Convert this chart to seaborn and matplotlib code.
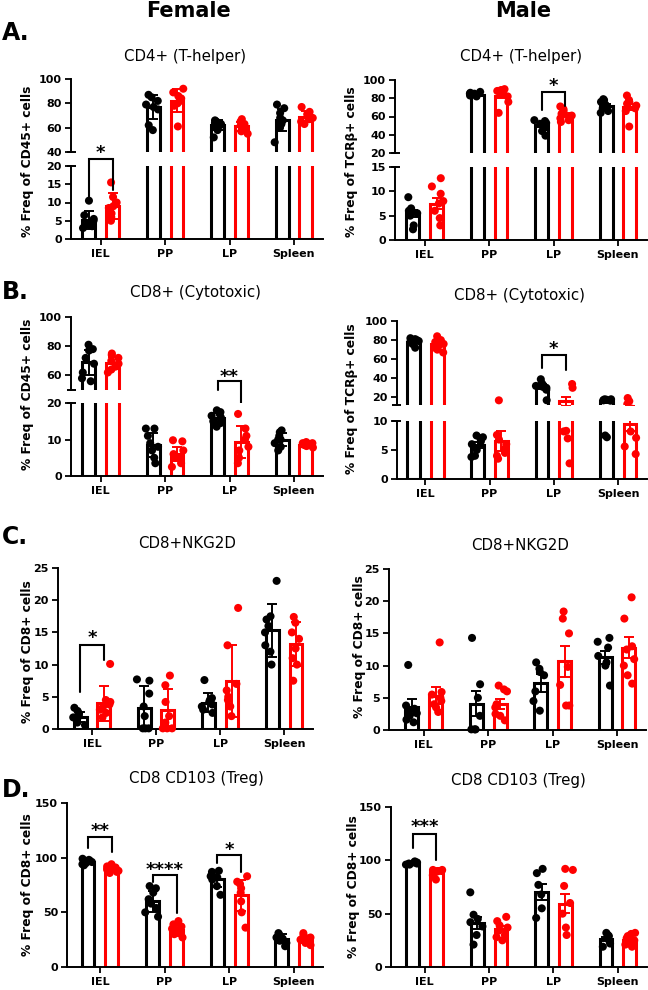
import numpy as np
import pandas as pd
import matplotlib
matplotlib.use("Agg")
import matplotlib.pyplot as plt
import seaborn as sns

sns.set_theme(style="ticks")
plt.rcParams["font.family"] = ["DejaVu Sans"]
plt.rcParams["font.weight"] = "bold"
for k in ["axes.edgecolor", "text.color", "xtick.color", "ytick.color", "axes.labelcolor"]:
    plt.rcParams[k] = "black"

np.random.seed(7)

# ---------------- data ----------------
tissues = ["IEL", "PP", "LP", "Spleen"]
groups = ["Group 1", "Group 2"]

# A. CD4+ (T-helper) - Female (mean +/- SD)
fa_mean_blk = [5.3, 77, 62, 66]
fa_mean_red = [9.0, 82, 61, 69]
fa_err_blk = [2.5, 10, 4, 9]
fa_err_red = [3.5, 9.5, 4, 4.5]
fa_pts_blk = [[10.5, 6.5, 5.5, 5, 4.5, 4, 3.5, 3], [87, 85, 82, 79, 77, 75, 62, 58],
              [66, 65, 64, 63, 62, 61, 58, 52], [79, 76, 72, 68, 66, 63, 60, 48]]
fa_pts_red = [[15.5, 11.5, 10, 9, 8.5, 7, 6, 5], [92, 89, 86, 84, 82, 80, 78, 61],
              [67, 65, 63, 62, 60, 58, 57, 55], [77, 73, 71, 70, 68, 67, 65, 63]]

# A. CD4+ (T-helper) - Male (mean +/- SEM)
ma_mean_blk = [5.5, 84, 51, 72]
ma_mean_red = [7.5, 83, 62, 70.5]
ma_err_blk = [0.7, 0.7, 2.2, 2]
ma_err_red = [1.1, 3, 2.3, 3.5]
ma_pts_blk = [[8.8, 6.5, 6, 5.8, 5.5, 5, 3, 2.2], [87, 86, 85, 85, 84, 84, 83, 82],
              [56, 55, 53, 52, 50, 48, 44, 39], [79, 78, 76, 73, 72, 69, 66, 64]]
ma_pts_red = [[12.7, 11, 9.5, 8, 7.5, 6, 4.5, 3], [90, 89, 88, 87, 85, 82, 76, 64],
              [71, 68, 66, 63, 61, 58, 56, 54], [83, 78, 76, 74, 72, 69, 66, 49]]

# B. CD8+ (Cytotoxic) - Female
fb_mean_blk = [69, 8.5, 16, 10]
fb_mean_red = [68.5, 6.0, 9.3, 8.6]
fb_err_blk = [8.5, 3.2, 1.3, 1.7]
fb_err_red = [4, 2, 4.3, 0.6]
fb_pts_blk = [[81, 78, 77, 72, 68, 62, 58, 56], [13, 13, 11, 9, 8, 7, 5, 3.5],
              [18, 17.5, 17, 16.5, 16, 15, 14.5, 13.5], [12.5, 12, 11, 10, 10, 9, 8, 7]]
fb_pts_red = [[75, 74, 72, 70, 68, 66, 64, 62], [9.8, 9.5, 7, 6, 5, 5, 3.5, 2.5],
              [17, 13, 11, 10, 8, 7, 5, 3.5], [9.3, 9, 9, 8.8, 8.6, 8.5, 8.2, 7.8]]

# B. CD8+ (Cytotoxic) - Male
mb_mean_blk = [78.5, 5.9, 31, 16]
mb_mean_red = [75.5, 6.5, 15.8, 9.4]
mb_err_blk = [1, 0.5, 2.5, 1.6]
mb_err_red = [2, 1.7, 5, 1.2]
mb_pts_blk = [[82, 81, 80, 79, 79, 78, 76, 72], [7.5, 7.2, 7, 6.5, 6, 5, 4, 3.8],
              [39, 35, 33, 32, 31, 30, 28, 17], [18, 18, 17.5, 17, 17, 16.5, 7.5, 7.2]]
mb_pts_red = [[84, 80, 78, 76, 74, 72, 70, 67], [16.9, 7.6, 6.8, 6, 5.2, 4.5, 4, 3.5],
              [34, 30, 8.3, 8.2, 7.0, 2.7], [19.3, 16, 13, 8.2, 7.1, 5.6, 4.3]]

# C. CD8+NKG2D - Female
fc_mean_blk = [1.9, 3.3, 4.1, 15.3]
fc_mean_red = [4.0, 3.0, 7.4, 13.2]
fc_err_blk = [0.8, 3.4, 1.5, 4.1]
fc_err_red = [2.7, 3.2, 5.6, 3.4]
fc_pts_blk = [[3.3, 2.8, 2.4, 2.0, 1.8, 1.5, 1.0, 0.6], [7.7, 7.5, 5.5, 3.5, 2.0, 0.1, 0.1, 0.1],
              [7.6, 4.8, 4.5, 4.2, 3.8, 3.5, 3.0, 2.5], [23, 17.5, 17, 16, 15, 13, 12, 10]]
fc_pts_red = [[10.1, 4.5, 4.2, 3.8, 3.5, 3.0, 2.5, 1.8], [8.3, 6.8, 4.2, 2.0, 1.0, 0.1, 0.1, 0.1],
              [18.8, 13.0, 7, 6, 5, 4.5, 3.5, 2], [17.4, 16.5, 15, 14, 12.5, 11, 10, 7.5]]

# C. CD8+NKG2D - Male
mc_mean_blk = [3.6, 4.1, 7.35, 11.3]
mc_mean_red = [5.3, 4.0, 10.7, 12.8]
mc_err_blk = [1.2, 2.0, 1.4, 1.0]
mc_err_red = [1.3, 0.8, 2.4, 1.6]
mc_pts_blk = [[10.1, 3.8, 3.3, 3, 2.6, 2.2, 1.6, 1.2], [14.3, 7.1, 5.0, 2.2, 0.1, 0.1, 0.1],
              [10.5, 9.5, 9.0, 8.5, 6.0, 4.5, 3.0], [14.3, 13.7, 12.8, 11.5, 10.5, 10.0, 6.9]]
mc_pts_red = [[13.6, 5.9, 5.5, 5.0, 4.5, 4.0, 3.5, 2.8], [6.9, 6.3, 6.0, 4.0, 3.5, 2.5, 2.2, 1.5],
              [18.4, 17.3, 15.0, 9.8, 7.0, 3.8, 3.8], [20.6, 17.3, 13.0, 12.5, 11.0, 10.0, 8.5, 7.2]]

# D. CD8 CD103 (Treg) - Female
fd_mean_blk = [96, 60, 80.5, 26]
fd_mean_red = [89.5, 34, 65.5, 25]
fd_err_blk = [2, 9.5, 7.5, 4]
fd_err_red = [2.5, 4, 14, 3.5]
fd_pts_blk = [[99, 98, 97, 97, 96, 95, 94, 93], [74, 72, 68, 62, 58, 54, 50, 46],
              [88, 87, 85, 83, 82, 80, 74, 66], [31, 30, 28, 27, 26, 24, 22, 19]]
fd_pts_red = [[94, 92, 91, 90, 89, 88, 87, 86], [42, 39, 37, 35, 33, 31, 30, 27],
              [83, 78, 76, 72, 68, 60, 50, 36], [31, 29, 27, 26, 25, 24, 22, 20]]

# D. CD8 CD103 (Treg) - Male
md_mean_blk = [97, 41, 70, 26]
md_mean_red = [89.5, 36, 59.5, 25]
md_err_blk = [0.5, 5.5, 7.5, 2]
md_err_red = [1, 2.5, 9, 1.8]
md_pts_blk = [[99, 98, 98, 97, 97, 96, 96], [70, 49, 45, 42, 38, 30, 21],
              [92, 88, 77, 68, 55, 46], [32, 30, 29, 27, 25, 22, 19]]
md_pts_red = [[91, 91, 90, 90, 90, 89, 86, 82], [47, 43, 39, 37, 34, 30, 28, 25],
              [92, 91, 76, 60, 50, 37, 30], [32, 31, 29, 27, 25, 23, 21, 19]]

# ---------------- drawing helpers ----------------
W, H = 648, 990
BLACK, RED = "#000000", "#ff0000"
fig = plt.figure(figsize=(W / 100, H / 100), dpi=100)


def box(l, t, r, b):
    return [l / W, 1 - b / H, (r - l) / W, (b - t) / H]


def draw(ax, mean_b, mean_r, err_b, err_r, pts_b, pts_r, clip=True):
    bars = pd.DataFrame({"tissue": tissues * 2,
                         "group": [groups[0]] * 4 + [groups[1]] * 4,
                         "value": list(mean_b) + list(mean_r)})
    sns.barplot(data=bars, x="tissue", y="value", hue="group", order=tissues,
                hue_order=groups, palette=[BLACK, RED], fill=False, width=0.74,
                gap=0.46, linewidth=2.2, errorbar=None, legend=False, ax=ax)
    rows = []
    for g, pts in zip(groups, (pts_b, pts_r)):
        for t, vals in zip(tissues, pts):
            for v in vals:
                rows.append((t, g, v))
    pdf = pd.DataFrame(rows, columns=["tissue", "group", "value"])
    sns.stripplot(data=pdf, x="tissue", y="value", hue="group", order=tissues,
                  hue_order=groups, palette=[BLACK, RED], dodge=True, jitter=0.2,
                  size=5.8, linewidth=0, legend=False, ax=ax, zorder=3, clip_on=clip)
    patches = sorted(ax.patches, key=lambda p: p.get_x())
    centers = [p.get_x() + p.get_width() / 2 for p in patches]
    xb, xr = centers[0::2], centers[1::2]
    ax.errorbar(xb, mean_b, yerr=err_b, fmt="none", ecolor=BLACK, elinewidth=1.4,
                capsize=3.6, capthick=1.4, zorder=4)
    ax.errorbar(xr, mean_r, yerr=err_r, fmt="none", ecolor=RED, elinewidth=1.4,
                capsize=3.6, capthick=1.4, zorder=4)
    ax.set_xlabel("")
    ax.set_ylabel("")
    sns.despine(ax=ax)
    return xb, xr


def style(ax, xl, ylim, yticks, show_x=True):
    ax.set_xlim(xl, 3.45)
    ax.set_ylim(*ylim)
    ax.set_yticks(yticks)
    ax.set_yticklabels([str(v) for v in yticks])
    ax.tick_params(axis="y", length=4.5, width=1.3, labelsize=8, pad=2)
    if show_x:
        ax.tick_params(axis="x", length=4, width=1.3, labelsize=8, pad=3)
    else:
        ax.tick_params(axis="x", bottom=False, labelbottom=False)
        ax.spines["bottom"].set_visible(False)
    for s in ax.spines.values():
        s.set_linewidth(1.4)
        s.set_color(BLACK)
    for lbl in ax.get_xticklabels() + ax.get_yticklabels():
        lbl.set_fontweight("bold")


def cap(ax, where):
    d = 4.5 / (ax.get_position().width * W)
    ax.plot([-d, d], [where, where], transform=ax.transAxes, color=BLACK, lw=1.4,
            clip_on=False, solid_capstyle="butt")


def bracket(ax, x0, x1, top, y0, y1, stars, star_y, fs=13):
    ax.plot([x0, x0, x1, x1], [y0, top, top, y1], color=BLACK, lw=1.5,
            clip_on=False, zorder=5, solid_joinstyle="miter")
    ax.annotate(stars, xy=((x0 + x1) / 2, star_y), xytext=(0, -0.55 * fs),
                textcoords="offset points", ha="center", va="baseline", fontsize=fs,
                fontweight="bold", annotation_clip=False)


def broken(box_up, box_lo, xl, ylim_up, yt_up, ylim_lo, yt_lo, data):
    au = fig.add_axes(box(*box_up))
    al = fig.add_axes(box(*box_lo))
    draw(au, *data)
    xb, xr = draw(al, *data)
    style(au, xl, ylim_up, yt_up, show_x=False)
    style(al, xl, ylim_lo, yt_lo)
    cap(au, 0)
    cap(al, 1)
    return au, al, xb, xr


# ---------------- Panel A ----------------
au, al, xb, xr = broken((71, 79, 323, 152), (71, 166, 323, 239), -0.46,
                        (40, 100), [40, 60, 80, 100], (0, 20), [0, 5, 10, 15, 20],
                        (fa_mean_blk, fa_mean_red, fa_err_blk, fa_err_red, fa_pts_blk, fa_pts_red))
bracket(al, xb[0], xr[0], 21.9, 11.5, 13.4, "*", 24.9)

au, al, xb, xr = broken((395, 80, 647, 153), (395, 167, 647, 240), -0.46,
                        (20, 100), [20, 40, 60, 80, 100], (0, 15), [0, 5, 10, 15],
                        (ma_mean_blk, ma_mean_red, ma_err_blk, ma_err_red, ma_pts_blk, ma_pts_red))
bracket(au, xb[2], xr[2], 86.8, 67, 71.5, "*", 99)

# ---------------- Panel B ----------------
au, al, xb, xr = broken((71, 317, 323, 390), (71, 403, 323, 476), -0.46,
                        (50, 100), [60, 80, 100], (0, 20), [0, 10, 20],
                        (fb_mean_blk, fb_mean_red, fb_err_blk, fb_err_red, fb_pts_blk, fb_pts_red))
bracket(au, xb[2], xr[2], 56.2, 50, 34.9, "**", 62.3)

au, al, xb, xr = broken((397, 321, 647, 405), (397, 421, 647, 479), -0.44,
                        (12, 100), [20, 40, 60, 80, 100], (0, 10), [0, 5, 10],
                        (mb_mean_blk, mb_mean_red, mb_err_blk, mb_err_red, mb_pts_blk, mb_pts_red))
bracket(au, xb[2], xr[2], 64.7, 51.2, 49.1, "*", 76)

# ---------------- Panel C ----------------
ax = fig.add_axes(box(58, 568, 313, 729))
xb, xr = draw(ax, fc_mean_blk, fc_mean_red, fc_err_blk, fc_err_red, fc_pts_blk, fc_pts_red, clip=False)
style(ax, -0.53, (0, 25), [0, 5, 10, 15, 20, 25])
bracket(ax, xb[0], xr[0], 13.0, 5.7, 10.7, "*", 14.9)

ax = fig.add_axes(box(389, 569, 646, 730))
draw(ax, mc_mean_blk, mc_mean_red, mc_err_blk, mc_err_red, mc_pts_blk, mc_pts_red, clip=False)
style(ax, -0.54, (0, 25), [0, 5, 10, 15, 20, 25])

# ---------------- Panel D ----------------
ax = fig.add_axes(box(67, 803, 323, 967))
xb, xr = draw(ax, fd_mean_blk, fd_mean_red, fd_err_blk, fd_err_red, fd_pts_blk, fd_pts_red, clip=False)
style(ax, -0.51, (0, 150), [0, 50, 100, 150])
bracket(ax, xb[0], xr[0], 119, 109, 105, "**", 129)
bracket(ax, xb[1], xr[1], 84, 78, 49.5, "****", 93)
bracket(ax, xb[2], xr[2], 102.5, 95, 87, "*", 111.5)

ax = fig.add_axes(box(391, 807, 647, 967))
xb, xr = draw(ax, md_mean_blk, md_mean_red, md_err_blk, md_err_red, md_pts_blk, md_pts_red, clip=False)
style(ax, -0.52, (0, 150), [0, 50, 100, 150])
bracket(ax, xb[0], xr[0], 124.7, 111.5, 100, "***", 136)

# ---------------- text ----------------
def ftext(x, y, s, **kw):
    fig.text(x / W, 1 - y / H, s, ha="center", va="center", **kw)


ftext(188, 11, "Female", fontsize=15, fontweight="bold")
ftext(523, 11, "Male", fontsize=15, fontweight="bold")
for letter, y in [("A.", 33), ("B.", 292), ("C.", 537), ("D.", 790)]:
    fig.text(2 / W, 1 - y / H, letter, ha="left", va="center", fontsize=17, fontweight="bold")

titles = [(185, 57, "CD4+ (T-helper)"), (521, 57, "CD4+ (T-helper)"),
          (196, 293, "CD8+ (Cytotoxic)"), (520, 296, "CD8+ (Cytotoxic)"),
          (187, 543, "CD8+NKG2D"), (520, 545, "CD8+NKG2D"),
          (196, 779, "CD8 CD103 (Treg)"), (518, 781, "CD8 CD103 (Treg)")]
for x, y, s in titles:
    ftext(x, y, s, fontsize=10.8, fontweight="normal")

ylabels = [(27, 161, "% Freq of CD45+ cells"), (351, 162, "% Freq of TCRβ+ cells"),
           (27, 394, "% Freq of CD45+ cells"), (351, 399, "% Freq of TCRβ+ cells"),
           (27, 652, "% Freq of CD8+ cells"), (360, 647, "% Freq of CD8+ cells"),
           (27, 885, "% Freq of CD8+ cells"), (353, 887, "% Freq of CD8+ cells")]
for x, y, s in ylabels:
    ftext(x, y, s, fontsize=8.8, fontweight="bold", rotation=90)

fig.savefig("out.png", dpi=100)
